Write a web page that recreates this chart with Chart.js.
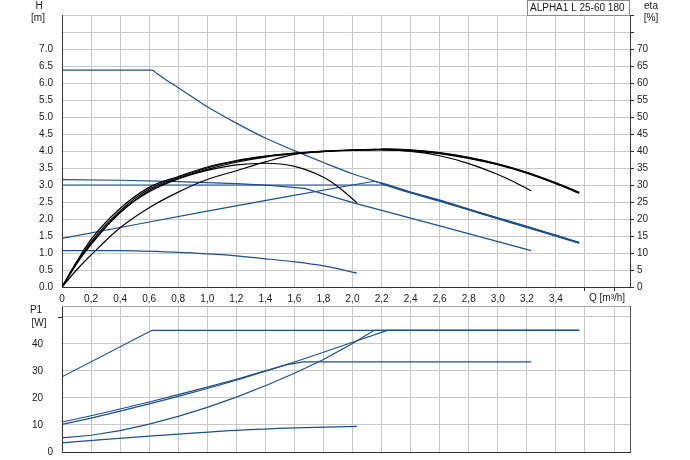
<!DOCTYPE html>
<html>
<head>
<meta charset="utf-8">
<script src="https://cdn.jsdelivr.net/npm/chart.js@4.4.1/dist/chart.umd.min.js"></script>
<style>
html, body { margin: 0; padding: 0; background: #fff; }
#wrap { position: relative; width: 690px; height: 460px; }
#top { position: absolute; left: 0; top: 0; }
#bot { position: absolute; left: 0; top: 305px; }
</style>
</head>
<body>
<div id="wrap">
  <canvas id="top" width="690" height="305"></canvas>
  <canvas id="bot" width="690" height="155"></canvas>
</div>
<script>
'use strict';

const title = 'ALPHA1 L 25-60 180';

// head H [m] against flow Q [m3/h]
const s3Q = [0, 0.62, 0.65, 0.7, 0.8, 0.9, 1.0, 1.2, 1.4, 1.6, 1.8, 2.0, 2.2, 2.4, 2.6, 2.8, 3.0, 3.2, 3.4, 3.56];
const s3H = [6.38, 6.38, 6.29, 6.14, 5.86, 5.58, 5.30, 4.82, 4.38, 4.01, 3.66, 3.33, 3.05, 2.78, 2.54, 2.28, 2.02, 1.77, 1.51, 1.30];
const s2Q = [0, 0.4, 0.8, 1.2, 1.43, 1.67, 2.02, 2.6, 3.23];
const s2H = [3.16, 3.14, 3.10, 3.04, 2.99, 2.90, 2.46, 1.80, 1.07];
const s1Q = [0, 0.4, 0.8, 1.1, 1.4, 1.6, 1.8, 2.03];
const s1H = [1.07, 1.07, 1.02, 0.95, 0.83, 0.74, 0.62, 0.41];
const cpQ = [0, 2.24, 2.4, 2.6, 2.8, 3.0, 3.2, 3.4, 3.56];
const cpH = [3.0, 3.0, 2.78, 2.54, 2.28, 2.02, 1.77, 1.51, 1.30];
const ppQ = [0, 0.5, 1.0, 1.5, 2.0, 2.15, 2.2, 2.4, 2.6, 2.8, 3.0, 3.2, 3.4, 3.56];
const ppH = [1.43, 1.83, 2.23, 2.62, 3.0, 3.11, 3.05, 2.78, 2.54, 2.28, 2.02, 1.77, 1.51, 1.30];

// efficiency eta [%]
const e3Q = [0, 0.1, 0.2, 0.4, 0.6, 0.8, 1.0, 1.2, 1.4, 1.6, 1.8, 2.0, 2.2, 2.4, 2.6, 2.8, 3.0, 3.2, 3.4, 3.56];
const e3 = [0, 5, 9.4, 17.4, 23.3, 27.9, 31.6, 34.2, 36.8, 39.0, 39.8, 40.3, 40.5, 40.2, 39.4, 38.0, 36.1, 33.6, 30.5, 27.7];
const e2Q = [0, 0.1, 0.2, 0.4, 0.6, 0.8, 1.0, 1.2, 1.4, 1.6, 1.8, 2.0, 2.2, 2.4, 2.6, 2.8, 3.0, 3.1, 3.23];
const e2 = [0, 7.1, 13.3, 22.4, 28.8, 32.2, 35.0, 37.0, 38.4, 39.3, 39.9, 40.2, 40.3, 39.9, 38.6, 36.3, 33.1, 31.2, 28.3];
const e1Q = [0, 0.1, 0.2, 0.4, 0.6, 0.8, 1.0, 1.2, 1.4, 1.6, 1.8, 1.9, 2.03];
const e1 = [0, 6.9, 12.5, 22.0, 28.0, 31.8, 34.3, 35.9, 36.4, 35.5, 32.3, 29.5, 24.8];
const ecpQ = [0, 0.1, 0.2, 0.4, 0.6, 0.8, 1.0, 1.2, 1.4, 1.6, 1.8, 2.0, 2.24, 2.4, 2.6, 2.8, 3.0, 3.2, 3.4, 3.56];
const ecp = [0, 6.8, 12.8, 21.8, 28.4, 31.9, 34.6, 36.7, 38.2, 39.2, 39.9, 40.3, 40.5, 40.2, 39.4, 38.0, 36.1, 33.6, 30.5, 27.7];
const eppQ = [0, 0.1, 0.2, 0.4, 0.6, 0.8, 1.0, 1.2, 1.4, 1.6, 1.8, 2.0, 2.15, 2.4, 2.6, 2.8, 3.0, 3.2, 3.4, 3.56];
const epp = [0, 7.4, 14.0, 23.1, 29.3, 32.5, 35.3, 37.2, 38.5, 39.4, 40.0, 40.3, 40.5, 40.2, 39.4, 38.0, 36.1, 33.6, 30.5, 27.7];

// power P1 [W]
const p3Q = [0, 0.62, 3.56];
const p3 = [27.8, 45, 45];
const p2Q = [0, 0.2, 0.4, 0.6, 0.8, 1.0, 1.2, 1.4, 1.55, 1.66, 3.23];
const p2 = [11.1, 13.4, 15.9, 18.5, 21.2, 24.0, 26.9, 30.0, 32.3, 33.3, 33.3];
const p1Q = [0, 0.3, 0.6, 0.9, 1.2, 1.6, 2.03];
const p1 = [3.4, 4.7, 5.9, 7.0, 8.0, 8.9, 9.5];
const pcpQ = [0, 0.2, 0.4, 0.6, 0.8, 1.0, 1.2, 1.4, 1.6, 1.8, 2.0, 2.24, 3.56];
const pcp = [10.2, 12.5, 15.1, 17.8, 20.6, 23.5, 26.6, 29.9, 33.3, 36.9, 40.6, 45, 45];
const pppQ = [0, 0.2, 0.4, 0.6, 0.8, 1.0, 1.2, 1.4, 1.6, 1.8, 2.0, 2.15, 3.56];
const ppp = [5.2, 6.2, 7.9, 10.3, 13.2, 16.5, 20.3, 24.5, 29.1, 34.2, 40.1, 45, 45];

const hTicksMax = 7;
const etaTicksMax = 70;
const pTicks = [0, 10, 20, 30, 40];

const BLUE = '#1d4f8c';
const GRID = '#c9c9c9';
const AXIS = '#333';
const TXT = '#1a1a1a';
const FONT = '"Liberation Sans", Arial, sans-serif';

const pts = (qs, vs) => qs.map((q, i) => ({ x: q, y: vs[i] }));
const thickFrom = (q0) => ({ borderWidth: c => c.p0.parsed.x >= q0 - 1e-6 ? 2.2 : 1.2 });
const smooth = { cubicInterpolationMode: 'monotone' };

function line(qs, vs, color, axis, extra) {
    return Object.assign({
        data: pts(qs, vs),
        borderColor: color,
        borderWidth: 1.2,
        pointRadius: 0,
        tension: 0,
        fill: false,
        yAxisID: axis
    }, extra || {});
}

const decor = {
    id: 'decor',
    afterDraw(chart, args, opts) {
        const ctx = chart.ctx;
        const a = chart.chartArea;
        ctx.save();
        if (opts.frameTop) {
            ctx.strokeStyle = '#a8a8a8';
            ctx.lineWidth = 1;
            ctx.beginPath();
            ctx.moveTo(a.left, a.top + 0.5);
            ctx.lineTo(a.right, a.top + 0.5);
            ctx.stroke();
        }
        if (opts.frameRight) {
            ctx.strokeStyle = '#555';
            ctx.beginPath();
            ctx.moveTo(a.right + 0.5, a.top);
            ctx.lineTo(a.right + 0.5, a.bottom);
            ctx.stroke();
        }
        if (opts.box) {
            ctx.fillStyle = '#fff';
            ctx.fillRect(527, 0, 102, 15);
            ctx.strokeStyle = '#888';
            ctx.strokeRect(527.5, 0.5, 102, 15);
        }
        ctx.font = '10px ' + FONT;
        ctx.fillStyle = TXT;
        ctx.textBaseline = 'middle';
        (opts.texts || []).forEach(t => {
            ctx.textAlign = t.align || 'center';
            ctx.fillText(t.s, t.x, t.y);
        });
        if (opts.pLabels) {
            const ys = chart.scales.y;
            ctx.textAlign = 'right';
            pTicks.forEach(v => {
                ctx.fillText(String(v), v === 0 ? 53 : 43, ys.getPixelForValue(v));
            });
            const y50 = Math.round(ys.getPixelForValue(50)) + 0.5;
            ctx.strokeStyle = AXIS;
            ctx.beginPath();
            ctx.moveTo(58, y50);
            ctx.lineTo(62, y50);
            ctx.stroke();
        }
        ctx.restore();
    }
};

Chart.defaults.font.family = FONT;
Chart.defaults.font.size = 10;
Chart.defaults.color = TXT;

const qLabel = v => v > 3.5 ? '' : (v === 0 ? '0' : v.toFixed(1).replace('.', ','));

const topChart = new Chart(document.getElementById('top'), {
    type: 'line',
    data: {
        datasets: [
            line(e3Q, e3, '#000', 'y2', Object.assign({ segment: thickFrom(2.2) }, smooth)),
            line(e2Q, e2, '#000', 'y2', smooth),
            line(e1Q, e1, '#000', 'y2', smooth),
            line(ecpQ, ecp, '#000', 'y2', smooth),
            line(eppQ, epp, '#000', 'y2', smooth),
            line(s3Q, s3H, BLUE, 'y', Object.assign({ segment: thickFrom(2.2) }, smooth)),
            line(s2Q, s2H, BLUE, 'y'),
            line(s1Q, s1H, BLUE, 'y', smooth),
            line(cpQ, cpH, BLUE, 'y'),
            line(ppQ, ppH, BLUE, 'y')
        ]
    },
    options: {
        responsive: false,
        animation: false,
        events: [],
        layout: { padding: 0 },
        plugins: {
            legend: { display: false },
            tooltip: { enabled: false },
            decor: {
                box: true,
                texts: [
                    { s: 'H', x: 39, y: 6 },
                    { s: '[m]', x: 38, y: 18 },
                    { s: 'eta', x: 651, y: 6 },
                    { s: '[%]', x: 651, y: 18 },
                    { s: 'Q [m³/h]', x: 589, y: 298.5, align: 'left' },
                    { s: title, x: 530, y: 8, align: 'left' }
                ]
            }
        },
        scales: {
            x: {
                type: 'linear',
                min: 0,
                max: 3.91,
                ticks: { stepSize: 0.2, includeBounds: false, autoSkip: false, maxRotation: 0, padding: 2, callback: qLabel },
                grid: {
                    color: GRID,
                    tickLength: 4,
                    tickColor: c => c.tick && c.tick.value > 3.5 ? AXIS : 'rgba(0,0,0,0)'
                },
                border: { color: AXIS },
                afterFit: s => { s.height = 18; }
            },
            y: {
                position: 'left',
                min: 0,
                max: 8,
                ticks: { stepSize: 0.5, padding: 9, callback: v => v > hTicksMax ? '' : v.toFixed(1) },
                grid: { color: GRID, drawTicks: false },
                border: { color: AXIS },
                afterFit: s => { s.width = 62; }
            },
            y2: {
                position: 'right',
                min: 0,
                max: 80,
                ticks: { stepSize: 5, padding: 3, callback: v => v > etaTicksMax ? '' : String(v) },
                grid: { drawOnChartArea: false, tickLength: 4, tickColor: AXIS },
                border: { color: AXIS },
                afterFit: s => { s.width = 60; }
            }
        }
    },
    plugins: [decor]
});

const botChart = new Chart(document.getElementById('bot'), {
    type: 'line',
    data: {
        datasets: [
            line(p3Q, p3, BLUE, 'y', { segment: thickFrom(2.2) }),
            line(p2Q, p2, BLUE, 'y'),
            line(p1Q, p1, BLUE, 'y', smooth),
            line(pcpQ, pcp, BLUE, 'y'),
            line(pppQ, ppp, BLUE, 'y')
        ]
    },
    options: {
        responsive: false,
        animation: false,
        events: [],
        layout: { padding: { top: 1, right: 60 } },
        plugins: {
            legend: { display: false },
            tooltip: { enabled: false },
            decor: {
                frameTop: true,
                frameRight: true,
                pLabels: true,
                texts: [
                    { s: 'P1', x: 36, y: 5 },
                    { s: '[W]', x: 39, y: 18 }
                ]
            }
        },
        scales: {
            x: {
                type: 'linear',
                min: 0,
                max: 3.91,
                ticks: { display: false, stepSize: 0.2, includeBounds: false },
                grid: { color: GRID, drawTicks: false },
                border: { color: AXIS },
                afterFit: s => { s.height = 8; }
            },
            y: {
                min: 0,
                max: 54,
                ticks: { display: false, stepSize: 10, includeBounds: false },
                grid: { color: GRID, drawTicks: false },
                border: { color: AXIS },
                afterFit: s => { s.width = 62; }
            }
        }
    },
    plugins: [decor]
});
</script>
</body>
</html>
